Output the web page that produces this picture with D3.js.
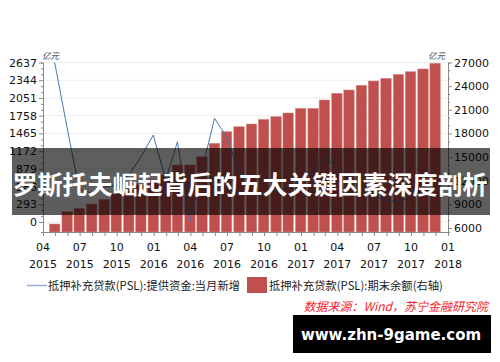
<!DOCTYPE html>
<meta charset="utf-8">
<style>
body { margin: 0; background: #fff; overflow: hidden; }
.tick text { font: 11px "DejaVu Sans", sans-serif; fill: #111; }
.cjk { font-family: "Noto Sans CJK SC", sans-serif; }
</style>
<div id="chart"></div>
<script src="https://cdnjs.cloudflare.com/ajax/libs/d3/7.8.5/d3.min.js"></script>
<script>

// months Apr 2015 .. Nov 2017, plotted at month end
var months = ["2015-04","2015-05","2015-06","2015-07","2015-08","2015-09","2015-10","2015-11","2015-12",
  "2016-01","2016-02","2016-03","2016-04","2016-05","2016-06","2016-07","2016-08","2016-09","2016-10","2016-11","2016-12",
  "2017-01","2017-02","2017-03","2017-04","2017-05","2017-06","2017-07","2017-08","2017-09","2017-10","2017-11"];

// 提供资金:当月新增 (亿元, left axis)
var newFunds = [2637, 1554, 540, 480, 578, 611, 777, 1074, 1438,
  694, 1327, 0, 860, 1714, 1410, 826, 446, 446, 529, 562, 694,
  826, 1058, 909, 727, 562, 430, 364, 336, 413, 529, 600];

// 期末余额 (亿元, right axis)
var balance = [6508, 8069, 8500, 9046, 9642, 10315, 10822, 11457, 12091,
  12726, 13995, 13995, 15048, 16749, 18221, 18855, 19198, 19794, 20124, 20594, 21190,
  21190, 22244, 23096, 23513, 24112, 24655, 24999, 25505, 25835, 26178, 26901];

var leftTicks = [0, 293, 586, 879, 1172, 1465, 1758, 2051, 2344, 2637];
var rightTicks = [6000, 9000, 12000, 15000, 18000, 21000, 24000, 27000];

var legendLine = "抵押补充贷款(PSL):提供资金:当月新增";
var legendBar = "抵押补充贷款(PSL):期末余额(右轴)";
var sourceText = "数据来源：Wind，苏宁金融研究院";
var titleText = "罗斯托夫崛起背后的五大关键因素深度剖析";
var siteText = "www.zhn-9game.com";

var width = 500, height = 362;
var plot = { x0: 43, x1: 448, y0: 62.5, y1: 232 };

var parseMonth = d3.timeParse("%Y-%m");
var dates = months.map(m => d3.timeDay.offset(d3.timeMonth.offset(parseMonth(m), 1), -1));

var x = d3.scaleTime()
    .domain([new Date(2015, 3, 1), new Date(2018, 0, 1)])
    .range([plot.x0, plot.x1]);
var yL = d3.scaleLinear().domain([-165, 2637]).range([plot.y1, plot.y0]);
var yR = d3.scaleLinear().domain([5492, 27000]).range([plot.y1, plot.y0]);

var svg = d3.select("#chart").append("svg")
    .attr("width", width)
    .attr("height", height);

// grid
svg.append("g").selectAll("line")
    .data(leftTicks)
    .join("line")
    .attr("x1", plot.x0).attr("x2", plot.x1)
    .attr("y1", d => yL(d)).attr("y2", d => yL(d))
    .attr("stroke", "#ececec");

// bars
var barW = 10.5;
svg.append("g").selectAll("rect")
    .data(balance)
    .join("rect")
    .attr("x", (d, i) => x(dates[i]) - barW / 2)
    .attr("y", d => yR(d))
    .attr("width", barW)
    .attr("height", d => plot.y1 - yR(d))
    .attr("fill", "#c0504d")
    .attr("stroke", "#d88e8c")
    .attr("stroke-width", 0.5);

// line
var line = d3.line()
    .x((d, i) => x(dates[i]))
    .y(d => yL(d));
svg.append("path")
    .datum(newFunds)
    .attr("d", line)
    .attr("fill", "none")
    .attr("stroke", "#4a78b5")
    .attr("stroke-width", 1);

// axes
var axisColor = "#8a8a8a";
function minors(ticks, n) {
  var out = [];
  for (var i = 0; i < ticks.length - 1; i++)
    for (var k = 1; k < n; k++) out.push(ticks[i] + (ticks[i + 1] - ticks[i]) * k / n);
  return out;
}

svg.append("g").attr("transform", `translate(${plot.x0},0)`)
    .call(d3.axisLeft(yL).tickValues(leftTicks).tickFormat(d3.format("d"))
      .tickSize(4).tickPadding(2).tickSizeOuter(0));
svg.append("g").attr("transform", `translate(${plot.x0},0)`)
    .call(d3.axisLeft(yL).tickValues(minors(leftTicks, 3)).tickSize(2).tickFormat(""));

svg.append("g").attr("transform", `translate(${plot.x1},0)`)
    .call(d3.axisRight(yR).tickValues(rightTicks).tickFormat(d3.format("d"))
      .tickSize(4).tickPadding(2).tickSizeOuter(0));
svg.append("g").attr("transform", `translate(${plot.x1},0)`)
    .call(d3.axisRight(yR).tickValues(minors(rightTicks, 3)).tickSize(2).tickFormat(""));

svg.append("g").attr("transform", `translate(0,${plot.y1})`)
    .call(d3.axisBottom(x).ticks(d3.timeMonth.every(1)).tickSize(4).tickFormat("").tickSizeOuter(0));

var quarters = d3.timeMonth.every(3).range(new Date(2015, 3, 1), new Date(2018, 0, 2));
var qLabels = svg.append("g").selectAll("g")
    .data(quarters)
    .join("g")
    .attr("transform", d => `translate(${x(d)},0)`);
qLabels.append("text")
    .attr("y", 251)
    .attr("text-anchor", "middle")
    .style("font", "11px 'DejaVu Sans', sans-serif")
    .attr("fill", "#111")
    .text(d3.timeFormat("%m"));
qLabels.append("text")
    .attr("y", 268)
    .attr("text-anchor", "middle")
    .style("font", "11px 'DejaVu Sans', sans-serif")
    .attr("fill", "#111")
    .text(d3.timeFormat("%Y"));

svg.selectAll(".domain, .tick line").attr("stroke", axisColor);

// units
svg.append("text").attr("class", "cjk")
    .attr("x", 42).attr("y", 59)
    .style("font-size", "8.5px").style("font-style", "italic").attr("fill", "#333")
    .text("亿元");
svg.append("text").attr("class", "cjk")
    .attr("x", 428).attr("y", 59)
    .style("font-size", "8.5px").style("font-style", "italic").attr("fill", "#333")
    .text("亿元");

// legend
svg.append("line")
    .attr("x1", 27).attr("x2", 47).attr("y1", 285.5).attr("y2", 285.5)
    .attr("stroke", "#8fabd6").attr("stroke-width", 1.5);
svg.append("text").attr("class", "cjk")
    .attr("x", 48).attr("y", 289.5)
    .style("font-size", "11.3px").attr("fill", "#222")
    .text(legendLine);
svg.append("rect")
    .attr("x", 247).attr("y", 277).attr("width", 20).attr("height", 16)
    .attr("fill", "#c0504d");
svg.append("text").attr("class", "cjk")
    .attr("x", 269).attr("y", 289.5)
    .style("font-size", "11.3px").attr("fill", "#222")
    .text(legendBar);

svg.append("text").attr("class", "cjk")
    .attr("x", 488).attr("y", 311)
    .attr("text-anchor", "end")
    .style("font-size", "12px").style("font-style", "italic")
    .attr("fill", "#f5222d")
    .text(sourceText);

// title banner
svg.append("rect")
    .attr("x", 12).attr("y", 148).attr("width", 478).attr("height", 67)
    .attr("fill", "rgba(0,0,0,0.63)");
svg.append("text").attr("class", "cjk")
    .attr("x", 250).attr("y", 194)
    .attr("text-anchor", "middle")
    .style("font-size", "25px").style("font-weight", "bold")
    .attr("fill", "#fff")
    .text(titleText);

// site banner
svg.append("rect")
    .attr("x", 293).attr("y", 315).attr("width", 198).attr("height", 38)
    .attr("fill", "#000");
svg.append("text")
    .attr("x", 391).attr("y", 340)
    .attr("text-anchor", "middle")
    .style("font", "bold 15px 'DejaVu Sans', sans-serif")
    .attr("fill", "#fff")
    .text(siteText);

</script>
